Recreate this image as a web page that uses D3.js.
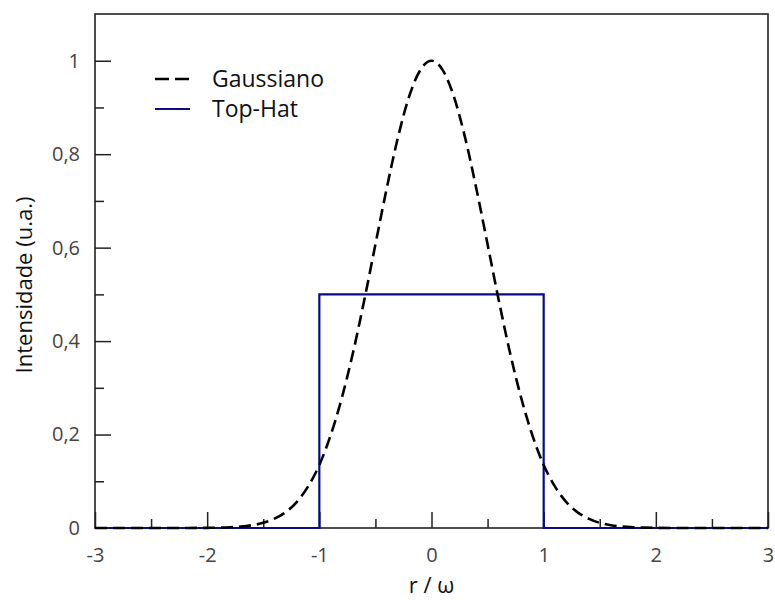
<!DOCTYPE html>
<html><head><meta charset="utf-8">
<script src="https://cdn.jsdelivr.net/npm/d3@7"></script>
<style>body{margin:0;background:#fff}svg{display:block}text{font-family:"Open Sans","Noto Sans",sans-serif}</style>
</head><body>
<svg id="c" width="775" height="600"></svg>
<script>
// Data
const gaussX = [-3,-2.5,-2.2,-2,-1.9,-1.8,-1.7,-1.6,-1.5,-1.4,-1.3,-1.2,-1.1,-1,-0.9,-0.8,-0.7,-0.6,-0.5,-0.4,-0.3,-0.2,-0.1,0,0.1,0.2,0.3,0.4,0.5,0.6,0.7,0.8,0.9,1,1.1,1.2,1.3,1.4,1.5,1.6,1.7,1.8,1.9,2,2.2,2.5,3];
const gaussY = [0,0,0.0001,0.0003,0.0007,0.0015,0.003,0.006,0.011,0.020,0.034,0.056,0.089,0.135,0.198,0.278,0.375,0.487,0.607,0.726,0.835,0.923,0.980,1,0.980,0.923,0.835,0.726,0.607,0.487,0.375,0.278,0.198,0.135,0.089,0.056,0.034,0.020,0.011,0.006,0.003,0.0015,0.0007,0.0003,0.0001,0,0];
const hatX = [-3,-1,-1,1,1,3];
const hatY = [0,0,0.5,0.5,0,0];
const xTicks = [-3,-2,-1,0,1,2,3];
const xTickLabels = ["-3","-2","-1","0","1","2","3"];
const xMinor = [-2.5,-1.5,-0.5,0.5,1.5,2.5];
const yTicks = [0,0.2,0.4,0.6,0.8,1];
const yTickLabels = ["0","0,2","0,4","0,6","0,8","1"];
const yMinor = [0.1,0.3,0.5,0.7,0.9];
const seriesNames = ["Gaussiano","Top-Hat"];

const svg = d3.select("#c");
const L=95,R=768,T=14,B=528;
const x = d3.scaleLinear().domain([-3,3]).range([L,R]);
const y = d3.scaleLinear().domain([0,1.1]).range([B,T]);
const axisColor="#222", labelColor="#444";
const FONT="'Open Sans','Noto Sans',sans-serif";

// frame
svg.append("rect").attr("x",L).attr("y",T).attr("width",R-L).attr("height",B-T)
  .attr("fill","none").attr("stroke",axisColor).attr("stroke-width",1.6);

// x axis
const gx = svg.append("g").attr("transform",`translate(0,${B})`)
  .call(d3.axisTop(x).tickValues(xTicks).tickSize(16).tickFormat(""));
const gxm = svg.append("g").attr("transform",`translate(0,${B})`)
  .call(d3.axisTop(x).tickValues(xMinor).tickSize(9).tickFormat(""));
const gxl = svg.append("g").attr("transform",`translate(0,${B})`)
  .call(d3.axisBottom(x).tickValues(xTicks).tickSize(0).tickPadding(27).tickFormat((d,i)=>xTickLabels[i]));
// y axis
const gy = svg.append("g").attr("transform",`translate(${L},0)`)
  .call(d3.axisRight(y).tickValues(yTicks.slice(1)).tickSize(16).tickFormat(""));
const gym = svg.append("g").attr("transform",`translate(${L},0)`)
  .call(d3.axisRight(y).tickValues(yMinor).tickSize(9).tickFormat(""));
const gyl = svg.append("g").attr("transform",`translate(${L},0)`)
  .call(d3.axisLeft(y).tickValues(yTicks).tickSize(0).tickPadding(15).tickFormat((d,i)=>yTickLabels[i]));
[gx,gxm,gxl,gy,gym,gyl].forEach(g=>{
  g.select(".domain").remove();
  g.selectAll(".tick line").attr("stroke",axisColor).attr("stroke-width",1.5);
  g.selectAll(".tick text").attr("fill",labelColor).style("font-size","20px").style("font-family",FONT);
});
gxl.selectAll(".tick text").attr("dy","0.35em");

// lines
const lineG = d3.line().x(d=>x(d[0])).y(d=>y(d[1])).curve(d3.curveMonotoneX);
const lineH = d3.line().x(d=>x(d[0])).y(d=>y(d[1]));
svg.append("path").datum(hatX.map((v,i)=>[v,hatY[i]])).attr("d",lineH)
  .attr("fill","none").attr("stroke","#0a0a85").attr("stroke-width",2.2);
svg.append("path").datum(gaussX.map((v,i)=>[v,gaussY[i]])).attr("d",lineG)
  .attr("fill","none").attr("stroke","#000").attr("stroke-width",2.6).attr("stroke-dasharray","12,6");

// legend
const leg = [{y:79,color:"#000",dash:"14,6"},{y:109,color:"#0a0a85",dash:null}];
leg.forEach((l,i)=>{
  svg.append("line").attr("x1",155).attr("x2",190).attr("y1",l.y).attr("y2",l.y)
    .attr("stroke",l.color).attr("stroke-width",i?2.2:2.6).attr("stroke-dasharray",l.dash);
  svg.append("text").attr("x",212).attr("y",l.y).attr("dy","0.35em").attr("fill","#111")
    .style("font-size","23px").text(seriesNames[i]);
});

// axis titles
svg.append("text").attr("x",(L+R)/2).attr("y",593).attr("text-anchor","middle").attr("fill","#111")
  .style("font-size","22px").text("r / ω");
svg.append("text").attr("transform",`translate(32,${(T+B)/2+14}) rotate(-90)`).attr("text-anchor","middle")
  .attr("fill","#111").style("font-size","22px").text("Intensidade (u.a.)");
</script>
</body></html>
